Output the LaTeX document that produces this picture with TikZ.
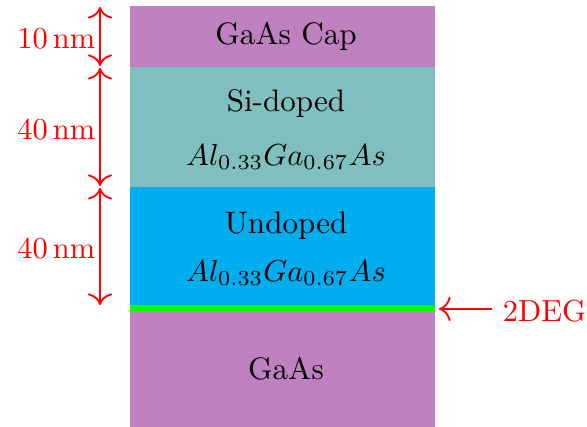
\documentclass[tikz,border=0pt]{standalone}
\usetikzlibrary{arrows.meta}
\begin{document}
\begin{tikzpicture}[x=0.328pt,y=-0.328pt,
  layer/.style={draw=none,inner sep=0pt},
  dim/.style={red,semithick,{Computer Modern Rightarrow[scale=1.3]}-{Computer Modern Rightarrow[scale=1.3]}},
  lab/.style={red,font=\fontsize{10}{12}\selectfont},
  txt/.style={font=\fontsize{10.2}{12}\selectfont}]
\useasboundingbox (0,0) rectangle (587,427);
% layers
\fill[violet!50] (130,6) rectangle (435,67);
\fill[teal!50] (130,67) rectangle (435,187);
\fill[cyan] (130,187) rectangle (435,305);
\fill[green] (130,305) rectangle (435,311);
\fill[violet!50] (130,311) rectangle (435,427);
% texts
\node[txt] (cap) at (286,36) {GaAs Cap};
\node[txt] (sid) at (286,104) {Si-doped};
\node[txt] (sim) at (286,157) {$Al_{0.33}Ga_{0.67}As$};
\node[txt] (und) at (286,226) {Undoped};
\node[txt] (unm) at (286,273) {$Al_{0.33}Ga_{0.67}As$};
\node[txt] (gaas) at (286,369) {GaAs};
% dimension coordinates
\coordinate (a0) at (100,7);
\coordinate (a1) at (100,66);
\coordinate (a2) at (100,186);
\coordinate (a3) at (100,305);
\coordinate (b1) at (100,68);
\coordinate (b2) at (100,188);
\draw[dim] (a0) -- (a1);
\draw[dim] (b1) -- (a2);
\draw[dim] (b2) -- (a3);
\node[lab,anchor=east] (l1) at (106,39) {10\,nm};
\node[lab,anchor=east] (l2) at (106,130) {40\,nm};
\node[lab,anchor=east] (l3) at (106,249) {40\,nm};
% 2DEG
\node[lab,anchor=west] (deg) at (492,311) {2DEG};
\coordinate (g) at (439,309);
\draw[red,semithick,-{Computer Modern Rightarrow[scale=1.3]}] (deg.west |- g) -- (g);
\end{tikzpicture}
\end{document}
